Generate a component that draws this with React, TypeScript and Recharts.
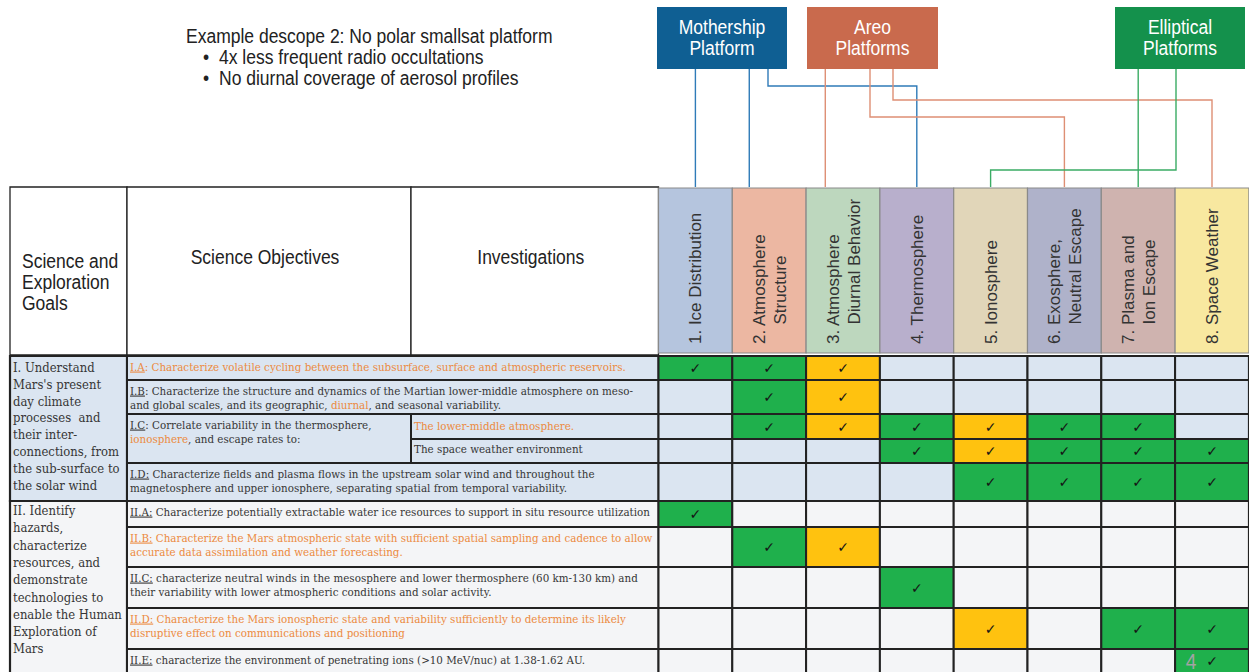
import React from "react";
import { ComposedChart, XAxis, YAxis, ReferenceArea, Scatter, Line, Customized } from "recharts";

/* ------------------------------ data ------------------------------ */
const titleText = "Example descope 2: No polar smallsat platform";
const bulletTexts = ["4x less frequent radio occultations", "No diurnal coverage of aerosol profiles"];

const platformNames = [
  ["Mothership", "Platform"],
  ["Areo", "Platforms"],
  ["Elliptical", "Platforms"],
];

const investigationNames = [
  ["1. Ice Distribution"],
  ["2. Atmosphere", "Structure"],
  ["3. Atmosphere", "Diurnal Behavior"],
  ["4. Thermosphere"],
  ["5. Ionosphere"],
  ["6. Exosphere,", "Neutral Escape"],
  ["7. Plasma and", "Ion Escape"],
  ["8. Space Weather"],
];

// investigation columns served by each platform
const platformLinks = [
  [0, 1, 3],
  [2, 5, 7],
  [6, 4],
];

const headerLabels = [["Science and", "Exploration", "Goals"], ["Science Objectives"], ["Investigations"]];

const goalLines = [
  ["I. Understand", "Mars's present", "day climate", "processes  and", "their inter-", "connections, from", "the sub-surface to", "the solar wind"],
  ["II. Identify", "hazards,", "characterize", "resources, and", "demonstrate", "technologies to", "enable the Human", "Exploration of", "Mars"],
];
const goalRowCounts = [5, 5];

// _x_ = underlined, *x* = highlighted (orange)
const objectiveLines = [
  ["_I.A_: Characterize volatile cycling between the subsurface, surface and atmospheric reservoirs."],
  [
    "_I.B_: Characterize the structure and dynamics of the Martian lower-middle atmosphere on meso-",
    "and global scales, and its geographic, *diurnal*, and seasonal variability.",
  ],
  ["_I.C_: Correlate variability in the thermosphere,", "*ionosphere*, and escape rates to:"],
  [
    "_I.D:_ Characterize fields and plasma flows in the upstream solar wind and throughout the",
    "magnetosphere and upper ionosphere, separating spatial from temporal variability.",
  ],
  ["_II.A:_ Characterize potentially extractable water ice resources to support in situ resource utilization"],
  [
    "_II.B:_ Characterize the Mars atmospheric state with sufficient spatial sampling and cadence to allow",
    "accurate data assimilation and weather forecasting.",
  ],
  [
    "_II.C:_ characterize neutral winds in the mesosphere and lower thermosphere (60 km-130 km) and",
    "their variability with lower atmospheric conditions and solar activity.",
  ],
  [
    "_II.D:_ Characterize the Mars ionospheric state and variability sufficiently to determine its likely",
    "disruptive effect on communications and positioning",
  ],
  ["_II.E:_ characterize the environment of penetrating ions (>10 MeV/nuc) at 1.38-1.62 AU."],
];
const objectiveTones = ["orange", "dark", "dark", "dark", "dark", "orange", "dark", "orange", "dark"];
const objectiveRowCounts = [1, 1, 2, 1, 1, 1, 1, 1, 1];

const subInvestigationLines = [["*The lower-middle atmosphere.*"], ["The space weather environment"]];
const subInvestigationRows = [2, 3];

const matrixRows = [
  "I.A",
  "I.B",
  "I.C lower-middle atmosphere",
  "I.C space weather environment",
  "I.D",
  "II.A",
  "II.B",
  "II.C",
  "II.D",
  "II.E",
];
// G = addressed, Y = partially addressed, - = not addressed
const coverage = [
  "GGY-----",
  "-GY-----",
  "-GYGYGG-",
  "---GYGGG",
  "----GGGG",
  "G-------",
  "-GY-----",
  "---G----",
  "----Y-GG",
  "-------G",
];
const pageNumber = "4";

/* ------------------------------ layout & style ------------------------------ */
const W = 1249;
const H = 672;
const MATRIX_LEFT_PX = 658.5;
const COL_PX = 73.8;
const X_MIN = -MATRIX_LEFT_PX / COL_PX;
const X_MAX = (W - MATRIX_LEFT_PX) / COL_PX;
const ux = (px: number) => (px - MATRIX_LEFT_PX) / COL_PX;

const TABLE_LEFT = ux(10);
const GOAL_RIGHT = ux(127);
const OBJ_SPLIT = ux(411);
const HEADER_TOP = 187;
const HEADER_BOTTOM = 355;
const HEADER_FILL_TOP = 188;
const HEADER_FILL_BOTTOM = 353;
const ROW_EDGES = [356, 380, 414, 439, 463, 501, 527, 567, 608, 649, 676];
const BOX_TOP = 7;
const BOX_BOTTOM = 69;
const BOX_SPANS = [
  [ux(657), ux(787)],
  [ux(807), ux(938)],
  [ux(1115), ux(1245)],
];
const LINK_ROUTES = [
  [
    { startPx: null, turnY: null, landFrac: 0.5 },
    { startPx: null, turnY: null, landFrac: 0.23 },
    { startPx: 768, turnY: 86, landFrac: 0.5 },
  ],
  [
    { startPx: null, turnY: null, landFrac: 0.26 },
    { startPx: 870, turnY: 117, landFrac: 0.5 },
    { startPx: 893, turnY: 100, landFrac: 0.5 },
  ],
  [
    { startPx: null, turnY: null, landFrac: 0.5 },
    { startPx: 1176, turnY: 170, landFrac: 0.5 },
  ],
];

const SANS = "'Liberation Sans', Arial, sans-serif";
const SERIF = "'DejaVu Serif', serif";
const SX = 0.875;
const ROW_FONT = 11;
const ROW_SX = 0.94;
const BOX_COLORS = ["#0f5f93", "#c96a4d", "#14914c"];
const LINK_COLORS = ["#2f7bb8", "#de8f74", "#3aac64"];
const HEAD_COLORS = ["#b5c5de", "#ecb7a2", "#bdd7be", "#b8afcc", "#e1d6b9", "#afb2ca", "#cfb3af", "#f8e8a0"];
const STATUS_COLORS: Record<string, string> = { G: "#1fb04c", Y: "#ffc20f" };
const GROUP_BG = ["#dbe5f1", "#f4f5f7"];
const GRID = "#222";
const DARK = "#363636";
const ORANGE = "#ec8a40";

/* ------------------------------ helpers ------------------------------ */
type Seg = { t: string; u: boolean; o: boolean };
function parseRich(line: string): Seg[] {
  const segs: Seg[] = [];
  let cur = "";
  let u = false;
  let o = false;
  for (const ch of line) {
    if (ch === "_" || ch === "*") {
      if (cur) segs.push({ t: cur, u, o });
      cur = "";
      if (ch === "_") u = !u;
      else o = !o;
    } else cur += ch;
  }
  if (cur) segs.push({ t: cur, u, o });
  return segs;
}

const vbOf = (p: any) => p.viewBox ?? { x: p.x, y: p.y, width: p.width, height: p.height };

function CellText(props: {
  vb: any;
  lines: string[];
  tone: string;
  size: number;
  family: string;
  sx: number;
  padX: number;
  firstY: number;
  lineH: number;
}) {
  const { vb, lines, tone, size, family, sx, padX, firstY, lineH } = props;
  return (
    <g>
      {lines.map((ln, i) => (
        <text
          key={i}
          transform={`translate(${vb.x + padX},${vb.y + firstY + i * lineH}) scale(${sx},1)`}
          fontSize={size}
          fontFamily={family}
          fill={tone === "orange" ? ORANGE : DARK}
          style={{ whiteSpace: "pre" }}
        >
          {parseRich(ln).map((s, k) => (
            <tspan
              key={k}
              fill={s.o || tone === "orange" ? ORANGE : DARK}
              style={s.u ? { textDecoration: "underline" } : undefined}
            >
              {s.t}
            </tspan>
          ))}
        </text>
      ))}
    </g>
  );
}

function RotatedHeader({ vb, lines }: { vb: any; lines: string[] }) {
  const cx = vb.x + vb.width / 2;
  const bottom = vb.y + vb.height - 9;
  const offs = lines.length === 1 ? [6] : [-4.5, 16.5];
  return (
    <g>
      {lines.map((ln, i) => (
        <text
          key={i}
          transform={`translate(${cx + offs[i]},${bottom}) rotate(-90) scale(1,0.92)`}
          x={i === 0 ? 0 : 19.5}
          y={0}
          fontSize={17}
          fontFamily={SANS}
          fill="#333"
        >
          {ln}
        </text>
      ))}
    </g>
  );
}

function BoxLabel({ vb, lines }: { vb: any; lines: string[] }) {
  const cx = vb.x + vb.width / 2;
  return (
    <g>
      {lines.map((ln, i) => (
        <text
          key={i}
          transform={`translate(${cx},${vb.y + 27 + i * 21}) scale(${SX},1)`}
          textAnchor="middle"
          fontSize={20}
          fontFamily={SANS}
          fill="#ffffff"
        >
          {ln}
        </text>
      ))}
    </g>
  );
}

function HeaderLabel({ vb, lines, centered }: { vb: any; lines: string[]; centered: boolean }) {
  return (
    <g>
      {lines.map((ln, i) => (
        <text
          key={i}
          transform={
            centered
              ? `translate(${vb.x + vb.width / 2 - 4},${vb.y + 77}) scale(${SX},1)`
              : `translate(${vb.x + 12},${vb.y + 81 + i * 21}) scale(${SX},1)`
          }
          textAnchor={centered ? "middle" : "start"}
          fontSize={20}
          fontFamily={SANS}
          fill="#222"
        >
          {ln}
        </text>
      ))}
    </g>
  );
}

function PageNumber({ vb }: { vb: any }) {
  return (
    <text
      transform={`translate(${vb.x + 16},${vb.y + 20}) scale(${SX},1)`}
      textAnchor="middle"
      fontSize={22}
      fontFamily={SANS}
      fill="#a3a3a3"
    >
      {pageNumber}
    </text>
  );
}

function CheckMark(p: any) {
  if (p.cx == null || p.cy == null) return <g />;
  return (
    <text x={p.cx} y={p.cy + 5} textAnchor="middle" fontSize={14} fontFamily="'DejaVu Sans', sans-serif" fill="#151515">
      ✓
    </text>
  );
}

/* ------------------------------ derived series ------------------------------ */
const connectors = platformLinks.flatMap((cols, p) =>
  cols.map((col, k) => {
    const r = LINK_ROUTES[p][k];
    const land = col + r.landFrac;
    const start = r.startPx == null ? land : ux(r.startPx);
    const pts: { x: number; y: number }[] = [{ x: start, y: BOX_BOTTOM }];
    if (r.turnY != null) {
      pts.push({ x: start, y: r.turnY });
      pts.push({ x: land, y: r.turnY });
    }
    pts.push({ x: land, y: HEADER_TOP });
    return { color: LINK_COLORS[p], points: pts, key: `${p}-${col}` };
  })
);

const checkPoints: { x: number; y: number; status: string; row: string }[] = [];
coverage.forEach((rowStr, r) => {
  rowStr.split("").forEach((s, c) => {
    if (s !== "-") {
      const bottom = Math.min(ROW_EDGES[r + 1], H);
      checkPoints.push({ x: c + 0.5, y: (ROW_EDGES[r] + bottom) / 2, status: s, row: matrixRows[r] });
    }
  });
});

const groupOfRow = (r: number) => (r < goalRowCounts[0] ? 0 : 1);

function objectiveSpans() {
  const spans: { r0: number; r1: number }[] = [];
  let r = 0;
  objectiveRowCounts.forEach((n) => {
    spans.push({ r0: r, r1: r + n });
    r += n;
  });
  return spans;
}

/* ------------------------------ component ------------------------------ */
export default function App() {
  const objSpans = objectiveSpans();
  let goalStart = 0;
  const goalSpans = goalRowCounts.map((n) => {
    const s = { r0: goalStart, r1: goalStart + n };
    goalStart += n;
    return s;
  });
  const lastRow = coverage.length - 1;
  const lastCol = investigationNames.length - 1;

  return (
    <div style={{ position: "absolute", left: 0, top: 0, width: W, height: H, background: "#ffffff" }}>
      <ComposedChart width={W} height={H} margin={{ top: 0, right: 0, bottom: 0, left: 0 }}>
        <XAxis type="number" dataKey="x" domain={[X_MIN, X_MAX]} allowDataOverflow hide />
        <YAxis type="number" dataKey="y" domain={[0, H]} reversed allowDataOverflow hide />

        {/* platform boxes */}
        {platformNames.map((lines, i) => (
          <ReferenceArea
            key={`box-${i}`}
            x1={BOX_SPANS[i][0]}
            x2={BOX_SPANS[i][1]}
            y1={BOX_TOP}
            y2={BOX_BOTTOM}
            fill={BOX_COLORS[i]}
            fillOpacity={1}
            stroke="none"
            ifOverflow="visible"
            label={(p: any) => <BoxLabel vb={vbOf(p)} lines={lines} />}
          />
        ))}

        {/* header: left label cells */}
        {headerLabels.map((lines, i) => {
          const xs = [TABLE_LEFT, GOAL_RIGHT, OBJ_SPLIT, 0];
          return (
            <ReferenceArea
              key={`hl-${i}`}
              x1={xs[i]}
              x2={xs[i + 1]}
              y1={HEADER_TOP}
              y2={HEADER_BOTTOM}
              fill="#ffffff"
              fillOpacity={1}
              stroke={GRID}
              strokeWidth={1.3}
              ifOverflow="visible"
              label={(p: any) => <HeaderLabel vb={vbOf(p)} lines={lines} centered={i > 0} />}
            />
          );
        })}

        {/* header: investigation columns */}
        {investigationNames.map((lines, c) => (
          <ReferenceArea
            key={`hc-${c}`}
            x1={c}
            x2={c + 1}
            y1={HEADER_FILL_TOP}
            y2={HEADER_FILL_BOTTOM}
            fill={HEAD_COLORS[c]}
            fillOpacity={1}
            stroke="#8a8a8a"
            strokeWidth={1.2}
            ifOverflow="visible"
            label={(p: any) => <RotatedHeader vb={vbOf(p)} lines={lines} />}
          />
        ))}

        {/* goals */}
        {goalSpans.map((s, g) => (
          <ReferenceArea
            key={`goal-${g}`}
            x1={TABLE_LEFT}
            x2={GOAL_RIGHT}
            y1={ROW_EDGES[s.r0]}
            y2={ROW_EDGES[s.r1]}
            fill={GROUP_BG[g]}
            fillOpacity={1}
            stroke={GRID}
            strokeWidth={2.2}
            ifOverflow="visible"
            label={(p: any) => (
              <CellText
                vb={vbOf(p)}
                lines={goalLines[g]}
                tone="dark"
                size={13.3}
                family={SERIF}
                sx={0.875}
                padX={3}
                firstY={g === 0 ? 16 : 14}
                lineH={g === 0 ? 16.8 : 17.3}
              />
            )}
          />
        ))}

        {/* objectives */}
        {objSpans.map((s, o) => (
          <ReferenceArea
            key={`obj-${o}`}
            x1={GOAL_RIGHT}
            x2={objectiveRowCounts[o] > 1 ? OBJ_SPLIT : 0}
            y1={ROW_EDGES[s.r0]}
            y2={ROW_EDGES[s.r1]}
            fill={GROUP_BG[groupOfRow(s.r0)]}
            fillOpacity={1}
            stroke={GRID}
            strokeWidth={2}
            ifOverflow="visible"
            label={(p: any) => (
              <CellText
                vb={vbOf(p)}
                lines={objectiveLines[o]}
                tone={objectiveTones[o]}
                size={ROW_FONT}
                family={SERIF}
                sx={ROW_SX}
                padX={3}
                firstY={14.5}
                lineH={14.5}
              />
            )}
          />
        ))}

        {/* sub-investigations of I.C */}
        {subInvestigationRows.map((r, i) => (
          <ReferenceArea
            key={`sub-${i}`}
            x1={OBJ_SPLIT}
            x2={0}
            y1={ROW_EDGES[r]}
            y2={ROW_EDGES[r + 1]}
            fill={GROUP_BG[groupOfRow(r)]}
            fillOpacity={1}
            stroke={GRID}
            strokeWidth={2}
            ifOverflow="visible"
            label={(p: any) => (
              <CellText
                vb={vbOf(p)}
                lines={subInvestigationLines[i]}
                tone="dark"
                size={ROW_FONT}
                family={SERIF}
                sx={ROW_SX}
                padX={3}
                firstY={i === 0 ? 15.5 : 14}
                lineH={14.5}
              />
            )}
          />
        ))}

        {/* traceability matrix cells */}
        {coverage.flatMap((rowStr, r) =>
          rowStr.split("").map((s, c) => (
            <ReferenceArea
              key={`cell-${r}-${c}`}
              x1={c}
              x2={c + 1}
              y1={ROW_EDGES[r]}
              y2={ROW_EDGES[r + 1]}
              fill={STATUS_COLORS[s] ?? GROUP_BG[groupOfRow(r)]}
              fillOpacity={1}
              stroke={GRID}
              strokeWidth={2}
              ifOverflow="visible"
              label={r === lastRow && c === lastCol ? (p: any) => <PageNumber vb={vbOf(p)} /> : undefined}
            />
          ))
        )}

        {/* connectors from platforms to investigations */}
        {connectors.map((cn) => (
          <Line
            key={cn.key}
            data={cn.points}
            dataKey="y"
            type="linear"
            stroke={cn.color}
            strokeWidth={1.4}
            dot={false}
            activeDot={false}
            isAnimationActive={false}
            legendType="none"
          />
        ))}

        {/* check marks */}
        <Scatter data={checkPoints} dataKey="y" isAnimationActive={false} shape={(p: any) => <CheckMark {...p} />} />

        {/* title block */}
        <Customized
          component={() => (
            <g>
              <text transform={`translate(186,43) scale(${SX},1)`} fontSize={20} fontFamily={SANS} fill="#222">
                {titleText}
              </text>
              {bulletTexts.map((b, i) => (
                <g key={i}>
                  <text transform={`translate(203,${64 + i * 21}) scale(${SX},1)`} fontSize={20} fontFamily={SANS} fill="#222">
                    •
                  </text>
                  <text transform={`translate(219,${64 + i * 21}) scale(${SX},1)`} fontSize={20} fontFamily={SANS} fill="#222">
                    {b}
                  </text>
                </g>
              ))}
            </g>
          )}
        />
      </ComposedChart>
    </div>
  );
}
